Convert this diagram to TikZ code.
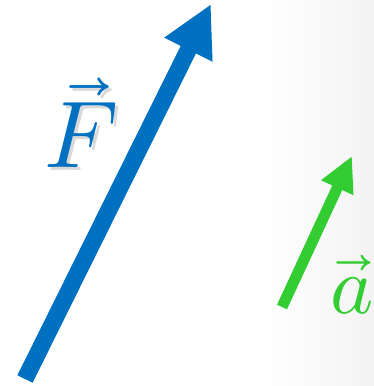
\documentclass[tikz,border=0pt]{standalone}
\usepackage{amsmath}
\usepackage{unicode-math}
\usepackage{tikz}
\usetikzlibrary{arrows.meta}
\definecolor{force}{HTML}{0070C0}
\definecolor{accel}{HTML}{33CC33}
\definecolor{edgegray}{HTML}{F3F3F3}

\begin{document}
\begin{tikzpicture}[x=1pt, y=-1pt,
    bigvec/.style={force, line width=17pt, line cap=butt,
      -{Triangle[length=51pt, width=50pt]}},
    smallvec/.style={accel, line width=11pt, line cap=butt,
      -{Triangle[length=35pt, width=33pt]}},
    veclabel/.style={inner sep=0pt, font=\fontsize{95}{95}\selectfont}]
    \useasboundingbox (0,0) rectangle (374,386);
    % faint gray at the right edge
    \shade[left color=white, right color=edgegray] (265,0) rectangle (374,386);

    % force vector
    \coordinate (Ftail) at (25,379);
    \coordinate (Ftip) at (211,4);
    \draw[bigvec] (Ftail) -- (Ftip);
    \node[veclabel, text=black!15] (Fshadow) at (84,126) {$\vec{F}$};
    \node[veclabel, text=force] (Flabel) at (81,123) {$\vec{F}$};

    % acceleration vector
    \coordinate (atail) at (282,307);
    \coordinate (atip) at (352,156);
    \draw[smallvec] (atail) -- (atip);
    \node[veclabel, text=accel, font=\fontsize{82}{82}\selectfont] (alabel) at (352,285) {$\vec{a}$};
  \end{tikzpicture}
\end{document}
